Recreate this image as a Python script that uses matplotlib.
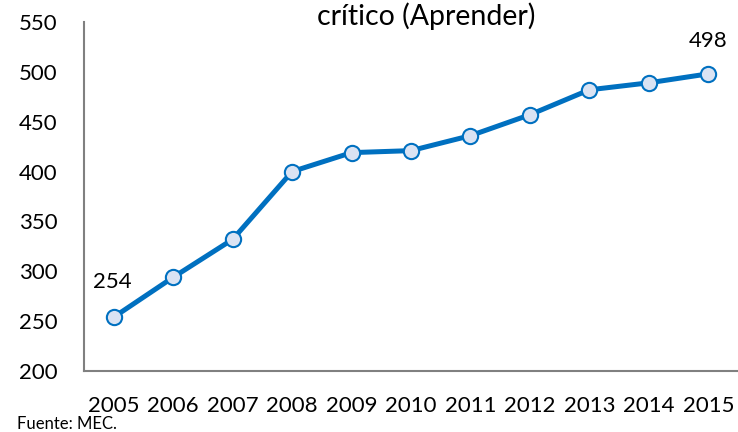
import matplotlib.pyplot as plt

# Puntaje promedio por año
years = ["2005", "2006", "2007", "2008", "2009", "2010", "2011", "2012", "2013", "2014", "2015"]
scores = [254, 294, 332, 400, 419, 421, 436, 457, 482, 489, 498]

plt.rcParams['font.family'] = ['Lato', 'DejaVu Sans']

fig = plt.figure(figsize=(7.38, 4.32), dpi=100)
ax = fig.add_axes([84 / 738, 61 / 432, 654 / 738, 349 / 432])

x = list(range(len(years)))
ax.plot(x, scores, color='#0070C0', linewidth=3.6, marker='o', markersize=11,
        markerfacecolor='#DAE3F3', markeredgecolor='#0070C0', markeredgewidth=1.5,
        solid_capstyle='round', clip_on=False, zorder=3)

# Etiquetas del primer y último valor
ax.annotate(str(scores[0]), (x[0], scores[0]), xytext=(-1, 25), textcoords='offset points',
            ha='center', va='center', fontsize=16, color='black')
ax.annotate(str(scores[-1]), (x[-1], scores[-1]), xytext=(0, 24), textcoords='offset points',
            ha='center', va='center', fontsize=16, color='black')

ax.set_xlim(-0.5, len(years) - 0.5)
ax.set_ylim(200, 550)
ax.set_yticks(range(200, 551, 50))
ax.set_xticks(x)
ax.set_xticklabels(years)

ax.tick_params(axis='both', length=0, labelsize=16, colors='black')
ax.tick_params(axis='y', pad=19)
ax.tick_params(axis='x', pad=18)

for side in ['top', 'right']:
    ax.spines[side].set_visible(False)
for side in ['left', 'bottom']:
    ax.spines[side].set_color('#808080')
    ax.spines[side].set_linewidth(1.5)

fig.text(426 / 738, 1 - 16 / 432, 'crítico (Aprender)', ha='center', va='center', fontsize=20.5)
fig.text(17 / 738, 1 - 424 / 432, 'Fuente: MEC.', ha='left', va='center', fontsize=12)

fig.savefig('out.png', dpi=100)
